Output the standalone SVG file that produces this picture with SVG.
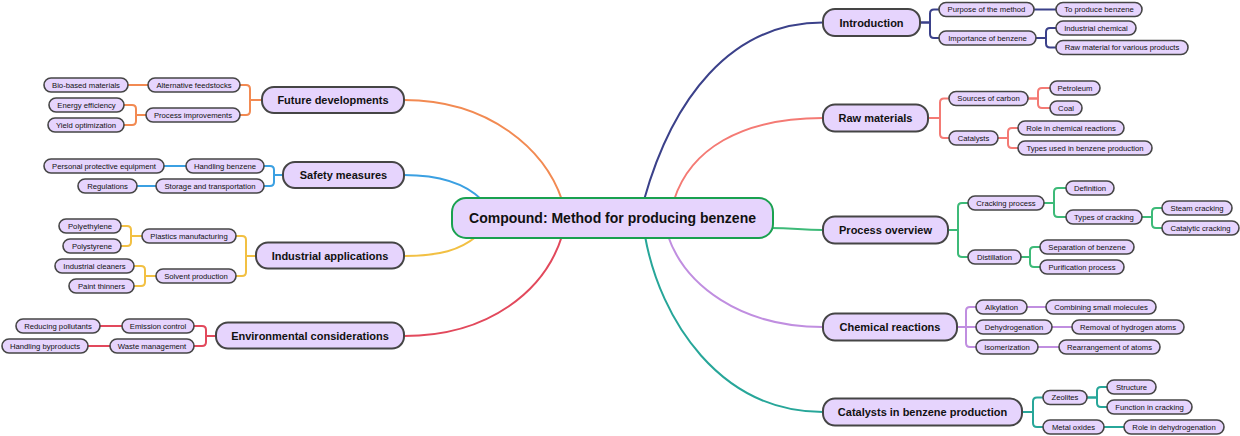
<svg xmlns="http://www.w3.org/2000/svg" width="1240" height="436" viewBox="0 0 1240 436">
<style>
.bg{fill:#ffffff}
.n1 rect{fill:#e6d4fd;stroke:#454545;stroke-width:2}
.n2 rect{fill:#e6d4fd;stroke:#454545;stroke-width:1.6}
.n1 text{font-family:"Liberation Sans",Arial,sans-serif;font-weight:bold;font-size:11px;fill:#111;text-anchor:middle}
.n2 text{font-family:"Liberation Sans",Arial,sans-serif;font-size:7.7px;fill:#111;text-anchor:middle}
.root rect{fill:#e6d4fd;stroke:#1aa150;stroke-width:2}
.root text{font-family:"Liberation Sans",Arial,sans-serif;font-weight:bold;font-size:14px;fill:#111;text-anchor:middle}
#connectors path{fill:none;stroke-width:2;stroke-linecap:round}
.c-intro{stroke:#3b418a}
.c-raw{stroke:#f47a74}
.c-proc{stroke:#3dba78}
.c-chem{stroke:#c08ee0}
.c-cat{stroke:#27a699}
.c-fut{stroke:#f28a52}
.c-saf{stroke:#3ba0e2}
.c-ind{stroke:#f2c043}
.c-env{stroke:#e2495c}
</style>
<rect class="bg" x="0" y="0" width="1240" height="436"/>
<g id="connectors">
<path class="c-intro" d="M644 200 C672 100 730 22.5 823 22.5"/>
<path class="c-raw" d="M674 200 C690 150 740 118 823 118"/>
<path class="c-proc" d="M770 228 C795 228 800 230 823 230"/>
<path class="c-chem" d="M668 236 C685 285 740 327 823 327"/>
<path class="c-cat" d="M645 236 C660 320 720 412 823 412"/>
<path class="c-fut" d="M562 200 C545 150 490 100 404 100"/>
<path class="c-saf" d="M482 200 C465 183 440 175 404 175"/>
<path class="c-ind" d="M477 236 C460 250 440 256 404 256"/>
<path class="c-env" d="M562 236 C545 290 490 336 404 336"/>

<path class="c-intro" d="M920 22.5 H930 V13.5 Q930 9.5 934 9.5 H939"/>
<path class="c-intro" d="M920 22.5 H930 V34 Q930 38 934 38 H939"/>
<path class="c-intro" d="M1034 9.5 H1056"/>
<path class="c-intro" d="M1036 38 H1046 V32 Q1046 28 1050 28 H1056"/>
<path class="c-intro" d="M1036 38 H1046 V43.5 Q1046 47.5 1050 47.5 H1056"/>

<path class="c-raw" d="M928 118 H940 V102.5 Q940 98.5 944 98.5 H949"/>
<path class="c-raw" d="M928 118 H940 V134 Q940 138 944 138 H949"/>
<path class="c-raw" d="M1028 98.5 H1038 V92 Q1038 88 1042 88 H1050"/>
<path class="c-raw" d="M1028 98.5 H1038 V104 Q1038 108 1042 108 H1050"/>
<path class="c-raw" d="M998 138 H1008 V132 Q1008 128 1012 128 H1018"/>
<path class="c-raw" d="M998 138 H1008 V144 Q1008 148 1012 148 H1018"/>

<path class="c-proc" d="M948 230 H958 V207 Q958 203 962 203 H968"/>
<path class="c-proc" d="M948 230 H958 V253 Q958 257 962 257 H968"/>
<path class="c-proc" d="M1044 203 H1054 V192 Q1054 188 1058 188 H1066"/>
<path class="c-proc" d="M1044 203 H1054 V213 Q1054 217 1058 217 H1066"/>
<path class="c-proc" d="M1142 217 H1152 V212 Q1152 208 1156 208 H1162"/>
<path class="c-proc" d="M1142 217 H1152 V224 Q1152 228 1156 228 H1162"/>
<path class="c-proc" d="M1021 257 H1030 V251 Q1030 247 1034 247 H1040"/>
<path class="c-proc" d="M1021 257 H1030 V263 Q1030 267 1034 267 H1040"/>

<path class="c-chem" d="M957 327 H966 V311 Q966 307 970 307 H976"/>
<path class="c-chem" d="M957 327 H976"/>
<path class="c-chem" d="M957 327 H966 V343 Q966 347 970 347 H976"/>
<path class="c-chem" d="M1027 307 H1046"/>
<path class="c-chem" d="M1052 327 H1072"/>
<path class="c-chem" d="M1038 347 H1059"/>

<path class="c-cat" d="M1022 412 H1033 V401.5 Q1033 397.5 1037 397.5 H1043"/>
<path class="c-cat" d="M1022 412 H1033 V423 Q1033 427 1037 427 H1043"/>
<path class="c-cat" d="M1087 397.5 H1097 V391 Q1097 387 1101 387 H1107"/>
<path class="c-cat" d="M1087 397.5 H1097 V403 Q1097 407 1101 407 H1107"/>
<path class="c-cat" d="M1104 427 H1124"/>

<path class="c-fut" d="M262 100 H250 V89 Q250 85 246 85 H240"/>
<path class="c-fut" d="M262 100 H250 V111 Q250 115 246 115 H240"/>
<path class="c-fut" d="M148 85 H128"/>
<path class="c-fut" d="M146 115 H136 V109 Q136 105 132 105 H124"/>
<path class="c-fut" d="M146 115 H136 V121 Q136 125 132 125 H124"/>

<path class="c-saf" d="M283 175 H274 V170 Q274 166 270 166 H264"/>
<path class="c-saf" d="M283 175 H274 V182 Q274 186 270 186 H264"/>
<path class="c-saf" d="M186 166 H164"/>
<path class="c-saf" d="M156 186 H137"/>

<path class="c-ind" d="M256 256 H246 V240 Q246 236 242 236 H236"/>
<path class="c-ind" d="M256 256 H246 V272 Q246 276 242 276 H236"/>
<path class="c-ind" d="M142 236 H131 V230 Q131 226 127 226 H121"/>
<path class="c-ind" d="M142 236 H131 V242 Q131 246 127 246 H121"/>
<path class="c-ind" d="M156 276 H145 V270 Q145 266 141 266 H134"/>
<path class="c-ind" d="M156 276 H145 V282 Q145 286 141 286 H134"/>

<path class="c-env" d="M216 336 H206 V330 Q206 326 202 326 H194"/>
<path class="c-env" d="M216 336 H206 V342 Q206 346 202 346 H194"/>
<path class="c-env" d="M122 326 H100"/>
<path class="c-env" d="M110 346 H88"/>
</g>

<g id="root" class="root"><rect x="452" y="198" width="321" height="40" rx="14"/><text x="612.5" y="223">Compound: Method for producing benzene</text></g>

<g id="introduction" class="n1"><rect x="823" y="9" width="97" height="27" rx="12"/><text x="871.5" y="26.5">Introduction</text></g>
<g id="raw-materials" class="n1"><rect x="823" y="104.5" width="105" height="27" rx="12"/><text x="875.5" y="122">Raw materials</text></g>
<g id="process-overview" class="n1"><rect x="823" y="216.5" width="125" height="27" rx="12"/><text x="885.5" y="234">Process overview</text></g>
<g id="chemical-reactions" class="n1"><rect x="823" y="313.5" width="134" height="27" rx="12"/><text x="890" y="331">Chemical reactions</text></g>
<g id="catalysts-production" class="n1"><rect x="823" y="398.5" width="199" height="27" rx="12"/><text x="922.5" y="416">Catalysts in benzene production</text></g>
<g id="future-developments" class="n1"><rect x="262" y="87" width="142" height="26" rx="12"/><text x="333" y="104">Future developments</text></g>
<g id="safety-measures" class="n1"><rect x="283" y="162" width="121" height="26" rx="12"/><text x="343.5" y="179">Safety measures</text></g>
<g id="industrial-applications" class="n1"><rect x="256" y="242.5" width="148" height="26" rx="12"/><text x="330" y="259.5">Industrial applications</text></g>
<g id="environmental-considerations" class="n1"><rect x="216" y="322.5" width="188" height="26" rx="12"/><text x="310" y="339.5">Environmental considerations</text></g>

<g id="purpose" class="n2"><rect x="939" y="2.5" width="95" height="14" rx="7"/><text x="986.5" y="12.2">Purpose of the method</text></g>
<g id="importance" class="n2"><rect x="939" y="31" width="97" height="14" rx="7"/><text x="987.5" y="40.7">Importance of benzene</text></g>
<g id="to-produce" class="n2"><rect x="1056" y="2.5" width="86" height="14" rx="7"/><text x="1099" y="12.2">To produce benzene</text></g>
<g id="industrial-chemical" class="n2"><rect x="1056" y="21" width="80" height="14" rx="7"/><text x="1096" y="30.7">Industrial chemical</text></g>
<g id="raw-material-products" class="n2"><rect x="1056" y="40.5" width="132" height="14" rx="7"/><text x="1122" y="50.2">Raw material for various products</text></g>

<g id="sources-carbon" class="n2"><rect x="949" y="91.5" width="79" height="14" rx="7"/><text x="988.5" y="101.2">Sources of carbon</text></g>
<g id="catalysts" class="n2"><rect x="949" y="131" width="49" height="14" rx="7"/><text x="973.5" y="140.7">Catalysts</text></g>
<g id="petroleum" class="n2"><rect x="1050" y="81" width="50" height="14" rx="7"/><text x="1075" y="90.7">Petroleum</text></g>
<g id="coal" class="n2"><rect x="1050" y="101" width="32" height="14" rx="7"/><text x="1066" y="110.7">Coal</text></g>
<g id="role-chemical" class="n2"><rect x="1018" y="121" width="106" height="14" rx="7"/><text x="1071" y="130.7">Role in chemical reactions</text></g>
<g id="types-used" class="n2"><rect x="1018" y="141" width="134" height="14" rx="7"/><text x="1085" y="150.7">Types used in benzene production</text></g>

<g id="cracking-process" class="n2"><rect x="968" y="196" width="76" height="14" rx="7"/><text x="1006" y="205.7">Cracking process</text></g>
<g id="distillation" class="n2"><rect x="968" y="250" width="53" height="14" rx="7"/><text x="994.5" y="259.7">Distillation</text></g>
<g id="definition" class="n2"><rect x="1066" y="181" width="48" height="14" rx="7"/><text x="1090" y="190.7">Definition</text></g>
<g id="types-cracking" class="n2"><rect x="1066" y="210" width="76" height="14" rx="7"/><text x="1104" y="219.7">Types of cracking</text></g>
<g id="steam-cracking" class="n2"><rect x="1162" y="201" width="70" height="14" rx="7"/><text x="1197" y="210.7">Steam cracking</text></g>
<g id="catalytic-cracking" class="n2"><rect x="1162" y="221" width="77" height="14" rx="7"/><text x="1200.5" y="230.7">Catalytic cracking</text></g>
<g id="separation" class="n2"><rect x="1040" y="240" width="94" height="14" rx="7"/><text x="1087" y="249.7">Separation of benzene</text></g>
<g id="purification" class="n2"><rect x="1040" y="260" width="84" height="14" rx="7"/><text x="1082" y="269.7">Purification process</text></g>

<g id="alkylation" class="n2"><rect x="976" y="300" width="51" height="14" rx="7"/><text x="1001.5" y="309.7">Alkylation</text></g>
<g id="dehydrogenation" class="n2"><rect x="976" y="320" width="76" height="14" rx="7"/><text x="1014" y="329.7">Dehydrogenation</text></g>
<g id="isomerization" class="n2"><rect x="976" y="340" width="62" height="14" rx="7"/><text x="1007" y="349.7">Isomerization</text></g>
<g id="combining" class="n2"><rect x="1046" y="300" width="110" height="14" rx="7"/><text x="1101" y="309.7">Combining small molecules</text></g>
<g id="removal" class="n2"><rect x="1072" y="320" width="112" height="14" rx="7"/><text x="1128" y="329.7">Removal of hydrogen atoms</text></g>
<g id="rearrangement" class="n2"><rect x="1059" y="340" width="101" height="14" rx="7"/><text x="1109.5" y="349.7">Rearrangement of atoms</text></g>

<g id="zeolites" class="n2"><rect x="1043" y="390.5" width="44" height="14" rx="7"/><text x="1065" y="400.2">Zeolites</text></g>
<g id="metal-oxides" class="n2"><rect x="1043" y="420" width="61" height="14" rx="7"/><text x="1073.5" y="429.7">Metal oxides</text></g>
<g id="structure" class="n2"><rect x="1107" y="380" width="49" height="14" rx="7"/><text x="1131.5" y="389.7">Structure</text></g>
<g id="function-cracking" class="n2"><rect x="1107" y="400" width="85" height="14" rx="7"/><text x="1149.5" y="409.7">Function in cracking</text></g>
<g id="role-dehydro" class="n2"><rect x="1124" y="420" width="100" height="14" rx="7"/><text x="1174" y="429.7">Role in dehydrogenation</text></g>

<g id="alternative" class="n2"><rect x="148" y="78" width="92" height="14" rx="7"/><text x="194" y="87.7">Alternative feedstocks</text></g>
<g id="process-improvements" class="n2"><rect x="146" y="108" width="94" height="14" rx="7"/><text x="193" y="117.7">Process improvements</text></g>
<g id="bio-based" class="n2"><rect x="44" y="78" width="84" height="14" rx="7"/><text x="86" y="87.7">Bio-based materials</text></g>
<g id="energy" class="n2"><rect x="49" y="98" width="75" height="14" rx="7"/><text x="86.5" y="107.7">Energy efficiency</text></g>
<g id="yield" class="n2"><rect x="48" y="118" width="76" height="14" rx="7"/><text x="86" y="127.7">Yield optimization</text></g>

<g id="handling-benzene" class="n2"><rect x="186" y="159" width="78" height="14" rx="7"/><text x="225" y="168.7">Handling benzene</text></g>
<g id="storage" class="n2"><rect x="156" y="179" width="108" height="14" rx="7"/><text x="210" y="188.7">Storage and transportation</text></g>
<g id="ppe" class="n2"><rect x="44" y="159" width="120" height="14" rx="7"/><text x="104" y="168.7">Personal protective equipment</text></g>
<g id="regulations" class="n2"><rect x="78" y="179" width="59" height="14" rx="7"/><text x="107.5" y="188.7">Regulations</text></g>

<g id="plastics" class="n2"><rect x="142" y="229" width="94" height="14" rx="7"/><text x="189" y="238.7">Plastics manufacturing</text></g>
<g id="solvent" class="n2"><rect x="156" y="269" width="80" height="14" rx="7"/><text x="196" y="278.7">Solvent production</text></g>
<g id="polyethylene" class="n2"><rect x="59" y="219" width="62" height="14" rx="7"/><text x="90" y="228.7">Polyethylene</text></g>
<g id="polystyrene" class="n2"><rect x="63" y="239" width="58" height="14" rx="7"/><text x="92" y="248.7">Polystyrene</text></g>
<g id="industrial-cleaners" class="n2"><rect x="55" y="259" width="79" height="14" rx="7"/><text x="94.5" y="268.7">Industrial cleaners</text></g>
<g id="paint-thinners" class="n2"><rect x="69" y="279" width="65" height="14" rx="7"/><text x="101.5" y="288.7">Paint thinners</text></g>

<g id="emission" class="n2"><rect x="122" y="319" width="72" height="14" rx="7"/><text x="158" y="328.7">Emission control</text></g>
<g id="waste" class="n2"><rect x="110" y="339" width="84" height="14" rx="7"/><text x="152" y="348.7">Waste management</text></g>
<g id="reducing" class="n2"><rect x="16" y="319" width="84" height="14" rx="7"/><text x="58" y="328.7">Reducing pollutants</text></g>
<g id="handling-byproducts" class="n2"><rect x="2" y="339" width="86" height="14" rx="7"/><text x="45" y="348.7">Handling byproducts</text></g>
</svg>
